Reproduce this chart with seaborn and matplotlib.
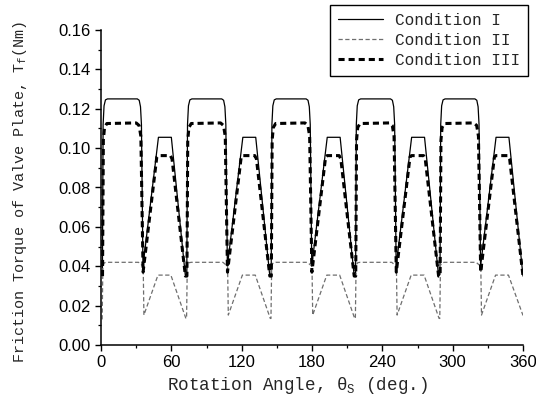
import matplotlib
matplotlib.use("Agg")
import matplotlib.pyplot as plt
from matplotlib.ticker import MultipleLocator, FormatStrFormatter
import seaborn as sns
import pandas as pd

# Friction torque of the valve plate over one shaft revolution
angle_c1 = [1.2, 1.8, 2.6, 3.8, 5.5, 31.0, 32.6, 33.7, 34.5, 35.8, 49.0, 60.0, 72.0,
            73.2, 73.8, 74.6, 75.8, 77.5, 103.0, 104.6, 105.7, 106.5, 107.8, 121.0, 132.0, 144.0,
            145.2, 145.8, 146.6, 147.8, 149.5, 175.0, 176.6, 177.7, 178.5, 179.8, 193.0, 204.0, 216.0,
            217.2, 217.8, 218.6, 219.8, 221.5, 247.0, 248.6, 249.7, 250.5, 251.8, 265.0, 276.0, 288.0,
            289.2, 289.8, 290.6, 291.8, 293.5, 319.0, 320.6, 321.7, 322.5, 323.8, 337.0, 348.0, 360.0]
torque_c1 = [0.036, 0.112, 0.1215, 0.1245, 0.125, 0.125, 0.1243, 0.121, 0.112, 0.040, 0.1055, 0.1055, 0.035,
             0.036, 0.112, 0.1215, 0.1245, 0.125, 0.125, 0.1243, 0.121, 0.112, 0.040, 0.1055, 0.1055, 0.035,
             0.036, 0.112, 0.1215, 0.1245, 0.125, 0.125, 0.1243, 0.121, 0.112, 0.040, 0.1055, 0.1055, 0.035,
             0.036, 0.112, 0.1215, 0.1245, 0.125, 0.125, 0.1243, 0.121, 0.112, 0.040, 0.1055, 0.1055, 0.035,
             0.036, 0.112, 0.1215, 0.1245, 0.125, 0.125, 0.1243, 0.121, 0.112, 0.040, 0.1055, 0.1055, 0.035]

angle_c2 = [1.0, 1.6, 3.0, 5.0, 32.0, 34.0, 36.0, 36.6, 48.6, 59.6, 72.4,
            73.0, 73.6, 75.0, 77.0, 104.0, 106.0, 108.0, 108.6, 120.6, 131.6, 144.4,
            145.0, 145.6, 147.0, 149.0, 176.0, 178.0, 180.0, 180.6, 192.6, 203.6, 216.4,
            217.0, 217.6, 219.0, 221.0, 248.0, 250.0, 252.0, 252.6, 264.6, 275.6, 288.4,
            289.0, 289.6, 291.0, 293.0, 320.0, 322.0, 324.0, 324.6, 336.6, 347.6, 360.0]
torque_c2 = [0.013, 0.0405, 0.0418, 0.042, 0.042, 0.041, 0.040, 0.0152, 0.0355, 0.0355, 0.0135,
             0.0135, 0.0405, 0.0418, 0.042, 0.042, 0.041, 0.040, 0.0152, 0.0355, 0.0355, 0.0135,
             0.0135, 0.0405, 0.0418, 0.042, 0.042, 0.041, 0.040, 0.0152, 0.0355, 0.0355, 0.0135,
             0.0135, 0.0405, 0.0418, 0.042, 0.042, 0.041, 0.040, 0.0152, 0.0355, 0.0355, 0.0135,
             0.0135, 0.0405, 0.0418, 0.042, 0.042, 0.041, 0.040, 0.0152, 0.0355, 0.0355, 0.015]

angle_c3 = [1.3, 2.0, 3.0, 5.0, 30.0, 32.5, 34.0, 35.9, 47.6, 48.8, 59.2, 60.6, 72.0,
            73.3, 74.0, 75.0, 77.0, 102.0, 104.5, 106.0, 107.9, 119.6, 120.8, 131.2, 132.6, 144.0,
            145.3, 146.0, 147.0, 149.0, 174.0, 176.5, 178.0, 179.9, 191.6, 192.8, 203.2, 204.6, 216.0,
            217.3, 218.0, 219.0, 221.0, 246.0, 248.5, 250.0, 251.9, 263.6, 264.8, 275.2, 276.6, 288.0,
            289.3, 290.0, 291.0, 293.0, 318.0, 320.5, 322.0, 323.9, 335.6, 336.8, 347.2, 348.6, 360.0]
torque_c3 = [0.035, 0.104, 0.1105, 0.1125, 0.1128, 0.1115, 0.106, 0.037, 0.0955, 0.0962, 0.0962, 0.0945, 0.035,
             0.035, 0.104, 0.1105, 0.1125, 0.1128, 0.1115, 0.106, 0.037, 0.0955, 0.0962, 0.0962, 0.0945, 0.035,
             0.035, 0.104, 0.1105, 0.1125, 0.1128, 0.1115, 0.106, 0.037, 0.0955, 0.0962, 0.0962, 0.0945, 0.035,
             0.035, 0.104, 0.1105, 0.1125, 0.1128, 0.1115, 0.106, 0.037, 0.0955, 0.0962, 0.0962, 0.0945, 0.035,
             0.035, 0.104, 0.1105, 0.1125, 0.1128, 0.1115, 0.106, 0.037, 0.0955, 0.0962, 0.0962, 0.0945, 0.035]

labels = ["Condition I", "Condition II", "Condition III"]
x_ticks = [0, 60, 120, 180, 240, 300, 360]

sns.set_style("ticks")
plt.rcParams["font.family"] = ["Liberation Sans", "DejaVu Sans"]
plt.rcParams["mathtext.fontset"] = "custom"
plt.rcParams["mathtext.rm"] = "Liberation Mono"
plt.rcParams["mathtext.it"] = "Liberation Mono"

fig = plt.figure(figsize=(5.36, 4.11), dpi=100)
ax = fig.add_axes([101 / 536, 1 - 345 / 411, 422 / 536, 315 / 411])

styles = [
    dict(color="black", linewidth=0.9, linestyle="-"),
    dict(color="#6e6e6e", linewidth=0.9, dashes=(3.4, 2.0)),
    dict(color="black", linewidth=2.2, dashes=(2.0, 1.3)),
]
series = [(angle_c1, torque_c1), (angle_c2, torque_c2), (angle_c3, torque_c3)]

for (xs, ys), lab, st in zip(series, labels, styles):
    df = pd.DataFrame({"angle": xs, "torque": ys})
    kw = {k: v for k, v in st.items() if k != "dashes"}
    line_ax = sns.lineplot(data=df, x="angle", y="torque", ax=ax, label=lab,
                           estimator=None, sort=False, **kw)
    if "dashes" in st:
        line_ax.lines[-1].set_dashes(st["dashes"])

ax.set_xlim(0, 360)
ax.set_ylim(0, 0.16)
ax.set_xticks(x_ticks)
ax.xaxis.set_minor_locator(MultipleLocator(30))
ax.yaxis.set_major_locator(MultipleLocator(0.02))
ax.yaxis.set_minor_locator(MultipleLocator(0.01))
ax.yaxis.set_major_formatter(FormatStrFormatter("%.2f"))

for side in ["top", "right"]:
    ax.spines[side].set_visible(False)
for side in ["left", "bottom"]:
    ax.spines[side].set_linewidth(1.1)
    ax.spines[side].set_color("black")

ax.tick_params(which="major", direction="out", length=4, width=1.0,
               labelsize=12, colors="black", pad=3.5)
ax.tick_params(which="minor", direction="out", length=2.5, width=0.9, colors="black")

mono = ["Liberation Mono", "DejaVu Sans Mono"]
ax.set_xlabel(r"Rotation Angle, $\theta_{\rm S}$ (deg.)", family=mono, fontsize=12.7)
ax.set_ylabel(r"Friction Torque of Valve Plate, T$_{\rm f}$(Nm)", family=mono, fontsize=10.9)
ax.xaxis.set_label_coords(196 / 422, -30 / 315)
ax.yaxis.set_label_coords(-72 / 422, 0.487)

leg = ax.legend(loc="upper right", bbox_to_anchor=(528 / 536, 1 - 5 / 411),
                bbox_transform=fig.transFigure, borderaxespad=0, fancybox=False,
                framealpha=1, edgecolor="black", handlelength=2.8, handletextpad=0.75,
                labelspacing=0.3, borderpad=0.5, prop={"family": mono, "size": 11.5})
leg.get_frame().set_linewidth(1.0)

fig.savefig("out.png", dpi=100, facecolor="white")
